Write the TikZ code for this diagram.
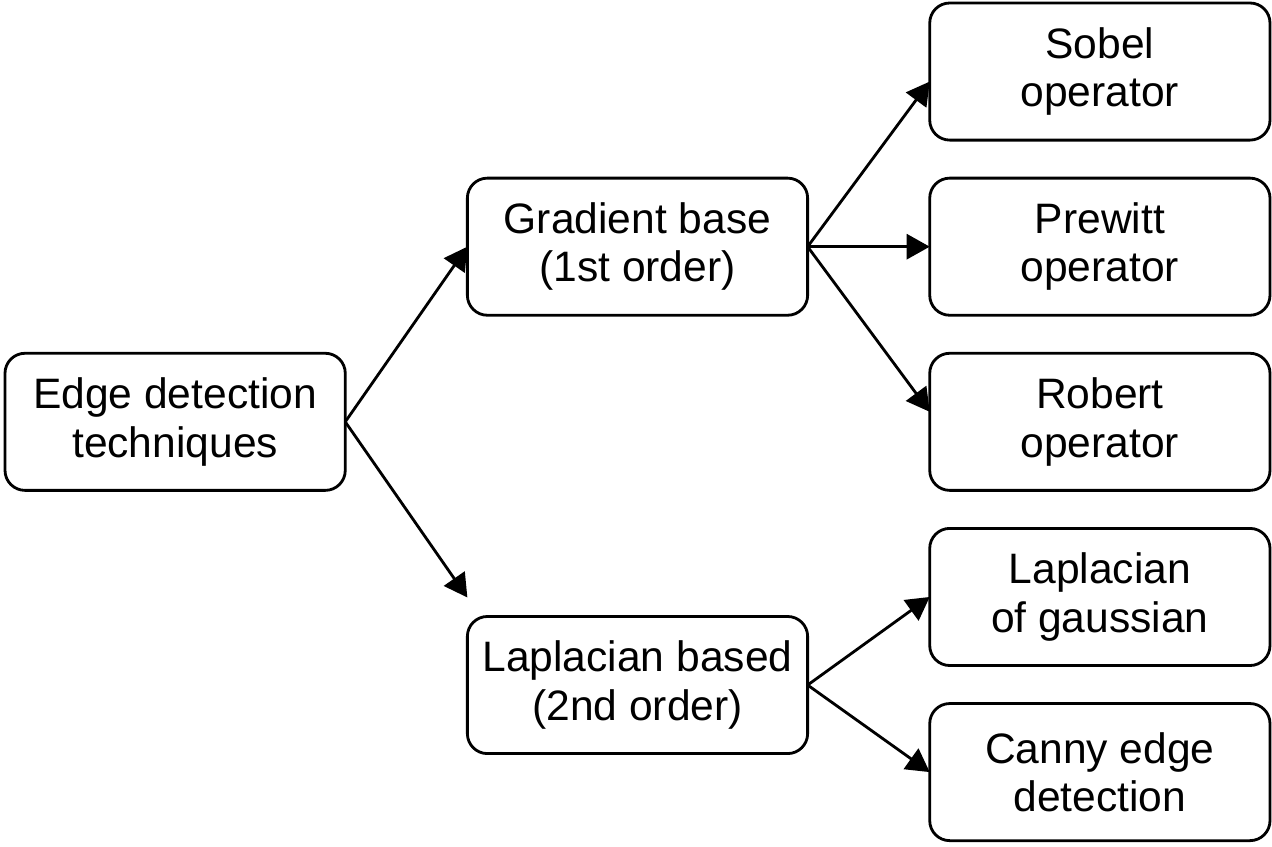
\documentclass[tikz,border=0pt]{standalone}
\usepackage{fontspec}
\setmainfont{Liberation Sans}
\usepackage{tikz}
\usetikzlibrary{arrows.meta,positioning,calc}

\begin{document}
\begin{tikzpicture}[
    node distance=0.76cm and 2.44cm,
    mybox/.style={draw, rounded corners=0.4cm, line width=1.6pt, outer sep=0pt, minimum width=6.8cm, minimum height=2.74cm, align=center, font=\fontsize{24.2}{27.5}\selectfont},
    myarrow/.style={-{Triangle[length=0.46cm,width=0.5cm]}, line width=1.6pt}
]
\node[mybox] (edge) {Edge detection\\techniques};
\node[mybox] (grad) [above right=0.76cm and 2.44cm of edge] {Gradient base\\(1st order)};
\node[mybox] (lap) [below right=2.52cm and 2.44cm of edge] {Laplacian based\\(2nd order)};
\node[mybox] (prewitt) [right=of grad] {Prewitt\\operator};
\node[mybox] (sobel) [above=of prewitt] {Sobel\\operator};
\node[mybox] (robert) [below=of prewitt] {Robert\\operator};
\node[mybox] (log) [below=of robert] {Laplacian\\of gaussian};
\node[mybox] (canny) [below=of log] {Canny edge\\detection};
\coordinate (lapin) at ([yshift=0.38cm]lap.north west);

\draw[myarrow] (edge.east) -- (grad.west);
\draw[myarrow] (edge.east) -- (lapin);
\draw[myarrow] (grad.east) -- ([yshift=-0.2cm]sobel.west);
\draw[myarrow] (grad.east) -- (prewitt.west);
\draw[myarrow] (grad.east) -- ([yshift=0.2cm]robert.west);
\draw[myarrow] (lap.east) -- (log.west);
\draw[myarrow] (lap.east) -- (canny.west);

\path[use as bounding box] ($(edge.west |- sobel.north)+(-0.1,0.06)$) rectangle ($(sobel.east |- canny.south)+(0.04,-0.12)$);
\end{tikzpicture}
\end{document}
